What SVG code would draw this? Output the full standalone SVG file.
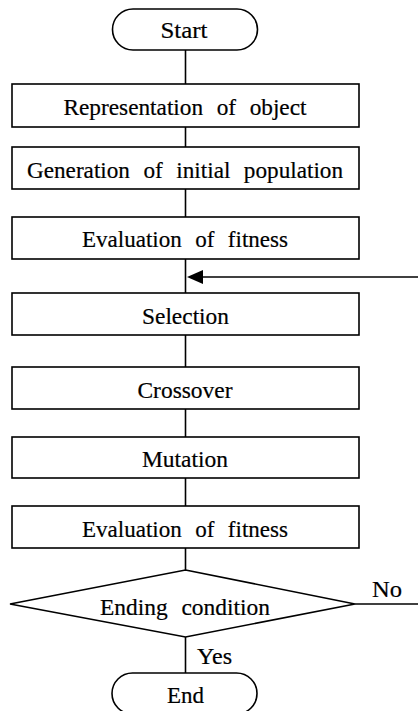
<svg xmlns="http://www.w3.org/2000/svg" width="418" height="711" viewBox="0 0 418 711">
<defs>
<style>
.s{fill:#fff;stroke:#000;stroke-width:1.6}
.c{fill:none;stroke:#000;stroke-width:1.6}
text{font-family:"Liberation Serif","Times New Roman",serif;font-size:24px;fill:#000;stroke:#000;stroke-width:0.2}
.m{text-anchor:middle;word-spacing:8px}
</style>
</defs>
<rect width="418" height="711" fill="#fff"/>
<g id="connectors">
<line class="c" x1="185.5" y1="50" x2="185.5" y2="84"/>
<line class="c" x1="185.5" y1="127" x2="185.5" y2="147"/>
<line class="c" x1="185.5" y1="189" x2="185.5" y2="217"/>
<line class="c" x1="185.5" y1="259" x2="185.5" y2="293"/>
<line class="c" x1="185.5" y1="335" x2="185.5" y2="367"/>
<line class="c" x1="185.5" y1="409" x2="185.5" y2="437"/>
<line class="c" x1="185.5" y1="478" x2="185.5" y2="506"/>
<line class="c" x1="185.5" y1="548" x2="185.5" y2="570"/>
<line class="c" x1="185.5" y1="637" x2="185.5" y2="673"/>
<polyline class="c" points="355,604 418,604"/>
<line class="c" x1="418" y1="277" x2="203" y2="277"/>
<path d="M187,277 L203,270 L203,284 Z" fill="#000"/>
<text x="197" y="664" textLength="35" lengthAdjust="spacingAndGlyphs">Yes</text>
<text x="372" y="597" textLength="30" lengthAdjust="spacingAndGlyphs">No</text>
</g>
<g id="start">
<rect class="s" x="112.5" y="9" width="145" height="41" rx="20.5"/>
<text class="m" x="184" y="38" textLength="47" lengthAdjust="spacingAndGlyphs">Start</text>
</g>
<g id="representation">
<rect class="s" x="12" y="84" width="347" height="43"/>
<text class="m" x="185" y="115" textLength="243" lengthAdjust="spacingAndGlyphs">Representation of object</text>
</g>
<g id="generation">
<rect class="s" x="12" y="147" width="347" height="42"/>
<text class="m" x="185" y="178" textLength="316" lengthAdjust="spacingAndGlyphs">Generation of initial population</text>
</g>
<g id="evaluation1">
<rect class="s" x="12" y="217" width="347" height="42"/>
<text class="m" x="185" y="247" textLength="206" lengthAdjust="spacingAndGlyphs">Evaluation of fitness</text>
</g>
<g id="selection">
<rect class="s" x="12" y="293" width="347" height="42"/>
<text class="m" x="185.5" y="323.5" textLength="87" lengthAdjust="spacingAndGlyphs">Selection</text>
</g>
<g id="crossover">
<rect class="s" x="12" y="367" width="347" height="42"/>
<text class="m" x="185" y="397.5" textLength="95" lengthAdjust="spacingAndGlyphs">Crossover</text>
</g>
<g id="mutation">
<rect class="s" x="12" y="437" width="347" height="41"/>
<text class="m" x="185" y="467" textLength="86" lengthAdjust="spacingAndGlyphs">Mutation</text>
</g>
<g id="evaluation2">
<rect class="s" x="12" y="506" width="347" height="42"/>
<text class="m" x="185" y="536.5" textLength="206" lengthAdjust="spacingAndGlyphs">Evaluation of fitness</text>
</g>
<g id="ending">
<polygon class="s" points="185.5,570 355,604 185.5,637 10,604"/>
<text class="m" x="185" y="615" textLength="170" lengthAdjust="spacingAndGlyphs">Ending condition</text>
</g>
<g id="end">
<rect class="s" x="112" y="673" width="145" height="41" rx="20.5"/>
<text class="m" x="185.5" y="703" textLength="37" lengthAdjust="spacingAndGlyphs">End</text>
</g>
</svg>
